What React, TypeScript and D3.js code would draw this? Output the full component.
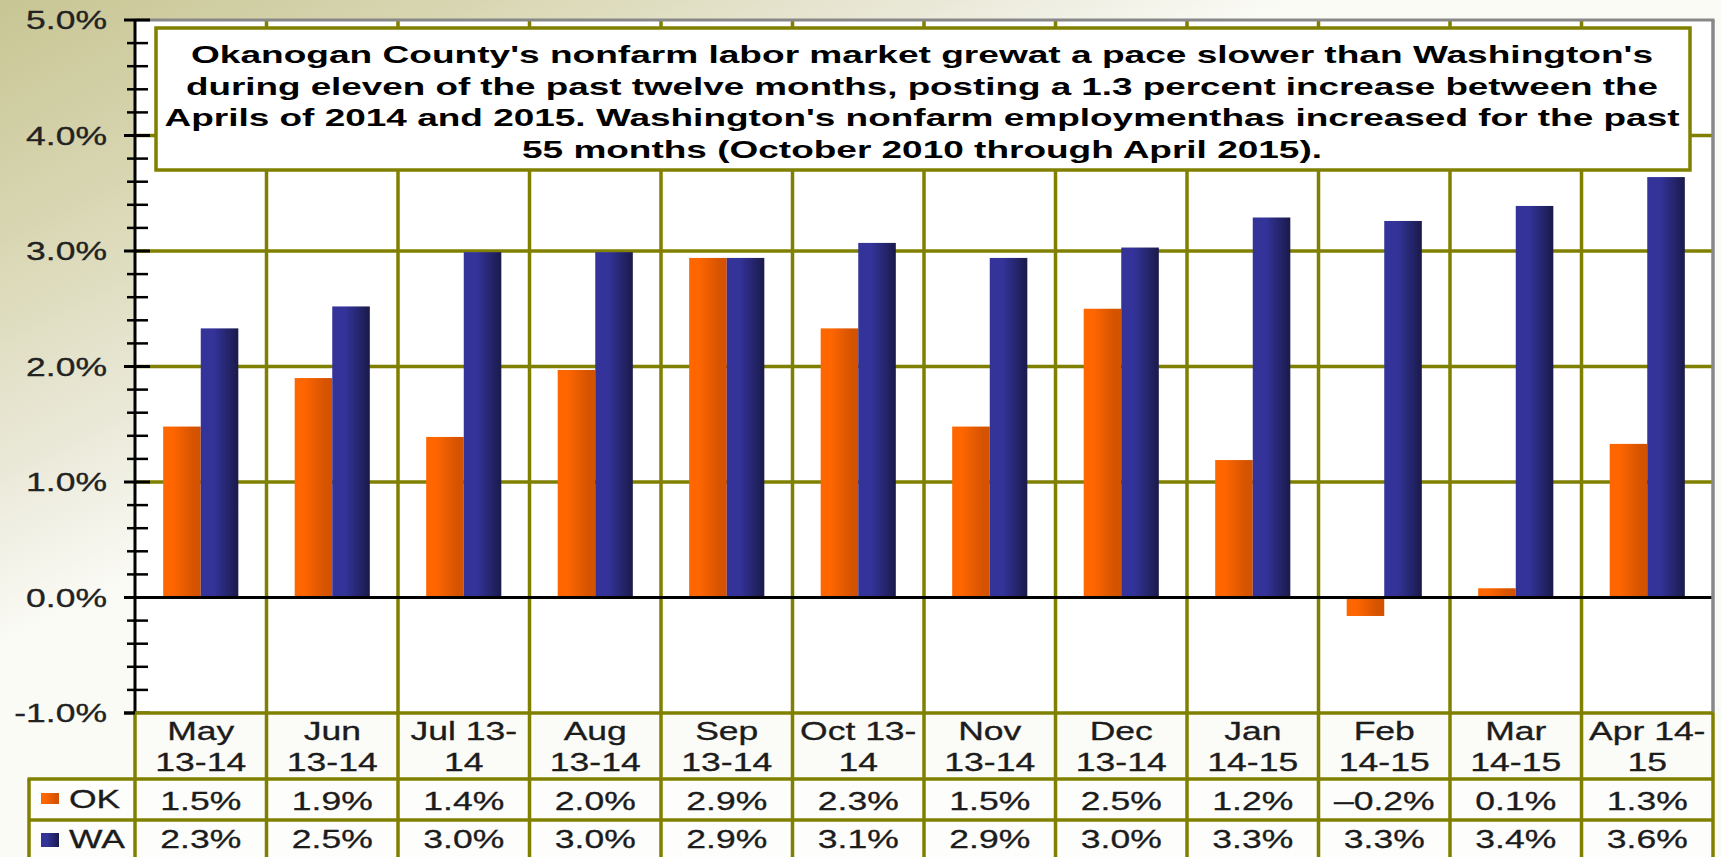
import React from 'react'
import * as d3 from 'd3'

// chart values
const months = [
  'May 13-14', 'Jun 13-14', 'Jul 13-14', 'Aug 13-14', 'Sep 13-14', 'Oct 13-14',
  'Nov 13-14', 'Dec 13-14', 'Jan 14-15', 'Feb 14-15', 'Mar 14-15', 'Apr 14-15',
]
const monthLines = [
  ['May', '13-14'], ['Jun', '13-14'], ['Jul 13-', '14'], ['Aug', '13-14'],
  ['Sep', '13-14'], ['Oct 13-', '14'], ['Nov', '13-14'], ['Dec', '13-14'],
  ['Jan', '14-15'], ['Feb', '14-15'], ['Mar', '14-15'], ['Apr 14-', '15'],
]
const series = ['OK', 'WA']
const okValues = [1.48, 1.9, 1.39, 1.97, 2.94, 2.33, 1.48, 2.5, 1.19, -0.16, 0.08, 1.33]
const waValues = [2.33, 2.52, 2.99, 2.99, 2.94, 3.07, 2.94, 3.03, 3.29, 3.26, 3.39, 3.64]
const okLabels = ['1.5%', '1.9%', '1.4%', '2.0%', '2.9%', '2.3%', '1.5%', '2.5%', '1.2%', '–0.2%', '0.1%', '1.3%']
const waLabels = ['2.3%', '2.5%', '3.0%', '3.0%', '2.9%', '3.1%', '2.9%', '3.0%', '3.3%', '3.3%', '3.4%', '3.6%']
const noteLines = [
  "Okanogan County's nonfarm labor market grewat a pace slower than Washington's",
  'during eleven of the past twelve months, posting a 1.3 percent increase between the',
  "Aprils of 2014 and 2015. Washington's nonfarm employmenthas increased for the past",
  '55 months (October 2010 through April 2015).',
]
const noteWidths = [1462, 1472, 1515, 800]

const W = 1721
const H = 857
const FONT = '"Liberation Sans", Arial, Helvetica, sans-serif'
const OLIVE = '#808000'
const SX = 1.42 // the original text is drawn wide

const left = 135
const right = 1713
const top = 20
const bottom = 713
const headerBottom = 779
const okRowBottom = 820
const legendLeft = 29

const StretchText: React.FC<{
  x: number
  y: number
  anchor?: 'start' | 'middle' | 'end'
  size?: number
  fill?: string
  children: React.ReactNode
}> = ({ x, y, anchor = 'middle', size = 25, fill = '#1c1c1c', children }) => (
  <text
    transform={`translate(${x},${y}) scale(${SX},1)`}
    textAnchor={anchor}
    fontSize={size}
    fill={fill}
    stroke={fill}
    strokeWidth={0.3}
    fontFamily={FONT}
  >
    {children}
  </text>
)

const App: React.FC = () => {
  React.useEffect(() => {
    document.body.style.margin = '0'
    document.body.style.overflow = 'hidden'
  }, [])

  const y = d3.scaleLinear().domain([-1, 5]).range([bottom, top])
  const x0 = d3.scaleBand<string>().domain(months).range([left, right]).paddingInner(0).paddingOuter(0)
  const x1 = d3.scaleBand<string>().domain(series).range([0, x0.bandwidth()]).paddingInner(0).paddingOuter(0.75)

  const majors = y.ticks(6)
  const minors = d3.ticks(-1, 5, 30).filter(t => Math.abs(t - Math.round(t)) > 1e-6)

  const bars = months.flatMap((m, i) => [
    { m, s: 'OK', v: okValues[i] },
    { m, s: 'WA', v: waValues[i] },
  ])

  return (
    <svg width={W} height={H} style={{ position: 'absolute', left: 0, top: 0, display: 'block' }}>
      <defs>
        <linearGradient id="bg" gradientUnits="userSpaceOnUse" x1={0} y1={0} x2={260} y2={520}>
          <stop offset="0" stopColor="#c8c594" />
          <stop offset="0.4" stopColor="#dad8b5" />
          <stop offset="0.75" stopColor="#ebeadb" />
          <stop offset="1" stopColor="#fbfbf6" />
        </linearGradient>
        <linearGradient id="g-OK" x1="0" y1="0" x2="1" y2="0">
          <stop offset="0" stopColor="#ff6600" />
          <stop offset="0.25" stopColor="#ff6600" />
          <stop offset="0.8" stopColor="#d65400" />
          <stop offset="1" stopColor="#d35200" />
        </linearGradient>
        <linearGradient id="g-WA" x1="0" y1="0" x2="1" y2="0">
          <stop offset="0" stopColor="#333399" />
          <stop offset="0.35" stopColor="#333399" />
          <stop offset="1" stopColor="#1a1a4a" />
        </linearGradient>
      </defs>

      <rect x={0} y={0} width={W} height={H} fill="url(#bg)" />

      {/* plot area */}
      <rect x={left} y={top} width={right - left} height={bottom - top} fill="#ffffff" />

      {/* gridlines */}
      {majors.filter(t => t > -1 && t < 5 && t !== 0).map(t => (
        <line key={`h${t}`} x1={left} x2={right} y1={y(t)} y2={y(t)} stroke={OLIVE} strokeWidth={3.5} />
      ))}
      {months.slice(1).map(m => (
        <line key={`v${m}`} x1={x0(m)!} x2={x0(m)!} y1={top} y2={H} stroke={OLIVE} strokeWidth={3.5} />
      ))}

      {/* bars */}
      {bars.map(d => (
        <rect
          key={`${d.m}-${d.s}`}
          x={x0(d.m)! + x1(d.s)!}
          y={y(Math.max(0, d.v))}
          width={x1.bandwidth()}
          height={Math.abs(y(d.v) - y(0))}
          fill={`url(#g-${d.s})`}
        />
      ))}

      {/* zero line */}
      <line x1={left} x2={right} y1={y(0)} y2={y(0)} stroke="#000" strokeWidth={3} />

      {/* plot frame */}
      <line x1={left} x2={right + 1.5} y1={top} y2={top} stroke="#888" strokeWidth={3} />
      <line x1={right} x2={right} y1={top} y2={bottom} stroke="#888" strokeWidth={3.5} />

      {/* note box */}
      <rect x={156} y={28} width={1534} height={142} fill="#fff" stroke={OLIVE} strokeWidth={3.5} />
      {noteLines.map((t, i) => (
        <text
          key={i}
          x={922}
          y={63 + i * 31.7}
          textAnchor="middle"
          fontSize={24}
          fontWeight="bold"
          fontFamily={FONT}
          fill="#000"
          textLength={noteWidths[i]}
          lengthAdjust="spacingAndGlyphs"
        >
          {t}
        </text>
      ))}

      {/* y axis */}
      <line x1={left} x2={left} y1={top} y2={bottom} stroke="#000" strokeWidth={3} />
      {minors.map(t => (
        <line key={`mn${t}`} x1={127} x2={148} y1={y(t)} y2={y(t)} stroke="#000" strokeWidth={2.5} />
      ))}
      {majors.map(t => (
        <g key={`mj${t}`}>
          <line x1={124} x2={150} y1={y(t)} y2={y(t)} stroke="#000" strokeWidth={3} />
          <StretchText x={107} y={y(t) + 9} anchor="end" size={25} fill="#222">
            {`${t.toFixed(1)}%`}
          </StretchText>
        </g>
      ))}

      {/* data table */}
      <rect x={left} y={bottom} width={right - left} height={headerBottom - bottom} fill="#fbfbf7" />
      <rect x={legendLeft} y={headerBottom} width={right - legendLeft} height={H - headerBottom} fill="#fdfdfb" />
      <line x1={left} x2={right} y1={bottom} y2={bottom} stroke={OLIVE} strokeWidth={3.5} />
      <line x1={legendLeft - 1.5} x2={right} y1={headerBottom} y2={headerBottom} stroke={OLIVE} strokeWidth={3.5} />
      <line x1={legendLeft} x2={right} y1={okRowBottom} y2={okRowBottom} stroke={OLIVE} strokeWidth={3.5} />
      <line x1={legendLeft} x2={legendLeft} y1={headerBottom} y2={H} stroke={OLIVE} strokeWidth={3.5} />
      <line x1={left} x2={left} y1={bottom} y2={H} stroke={OLIVE} strokeWidth={3.5} />
      {months.slice(1).map(m => (
        <line key={`tv${m}`} x1={x0(m)!} x2={x0(m)!} y1={bottom} y2={H} stroke={OLIVE} strokeWidth={3.5} />
      ))}
      <line x1={right} x2={right} y1={bottom} y2={H} stroke={OLIVE} strokeWidth={3.5} />
      {/* black tick at -1% over the table edge */}
      <line x1={124} x2={left} y1={bottom} y2={bottom} stroke="#000" strokeWidth={3} />

      {months.map((m, i) => {
        const cx = x0(m)! + x0.bandwidth() / 2
        return (
          <g key={`t${m}`}>
            <StretchText x={cx} y={740}>{monthLines[i][0]}</StretchText>
            <StretchText x={cx} y={771}>{monthLines[i][1]}</StretchText>
            <StretchText x={cx} y={810}>{okLabels[i]}</StretchText>
            <StretchText x={cx} y={848}>{waLabels[i]}</StretchText>
          </g>
        )
      })}

      {/* legend keys */}
      <rect x={41} y={793} width={18} height={11} fill="url(#g-OK)" />
      <StretchText x={69} y={808} anchor="start">OK</StretchText>
      <rect x={41} y={833} width={18} height={14} fill="url(#g-WA)" />
      <StretchText x={69} y={848} anchor="start">WA</StretchText>
    </svg>
  )
}

export default App
